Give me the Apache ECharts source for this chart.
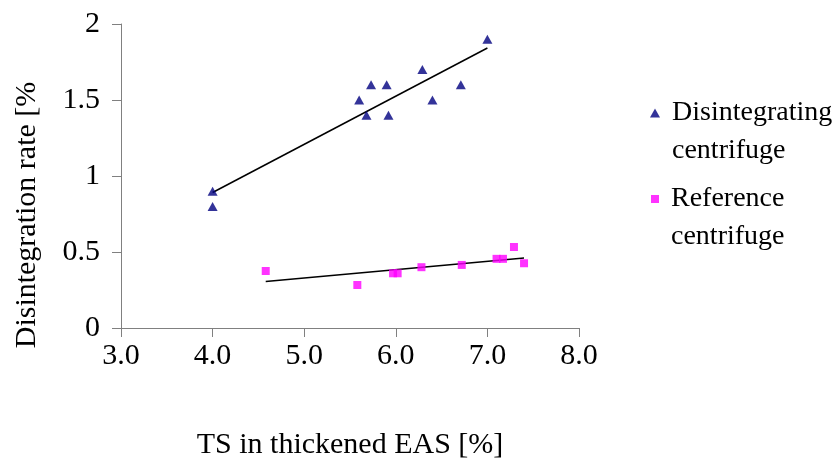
<!DOCTYPE html>
<html>
<head>
<meta charset="utf-8">
<script src="https://cdn.jsdelivr.net/npm/echarts@6/dist/echarts.min.js"></script>
<style>
  html, body { margin: 0; padding: 0; background: #fff; }
  #root { width: 838px; height: 458px; }
</style>
</head>
<body>
<div id="root"></div>
<script>
// 数据：值
var discX = [4.0, 4.0, 5.6, 5.68, 5.73, 5.9, 5.92, 6.29, 6.4, 6.71, 7.0];
var discY = [0.9, 0.8, 1.5, 1.4, 1.6, 1.6, 1.4, 1.7, 1.5, 1.6, 1.9];
var refX = [4.58, 5.58, 5.97, 6.02, 6.28, 6.72, 7.1, 7.17, 7.29, 7.4];
var refY = [0.375, 0.283, 0.36, 0.36, 0.4, 0.415, 0.455, 0.455, 0.533, 0.426];
var xTicks = ['3.0', '4.0', '5.0', '6.0', '7.0', '8.0'];
var yTicks = ['0', '0.5', '1', '1.5', '2'];
var names = ['Disintegrating\ncentrifuge', 'Reference\ncentrifuge'];

var FONT = '"Liberation Serif", "Times New Roman", serif';

function pairs(xs, ys) {
    return xs.map(function (x, i) { return [x, ys[i]]; });
}

// 线性回归趋势线
function trend(xs, ys) {
    var n = xs.length, mx = 0, my = 0, sxy = 0, sxx = 0;
    xs.forEach(function (x, i) { mx += x; my += ys[i]; });
    mx /= n; my /= n;
    xs.forEach(function (x, i) { sxy += (x - mx) * (ys[i] - my); sxx += (x - mx) * (x - mx); });
    var k = sxy / sxx, b = my - k * mx;
    var x0 = Math.min.apply(null, xs), x1 = Math.max.apply(null, xs);
    return [[x0, k * x0 + b], [x1, k * x1 + b]];
}

var myChart = echarts.init(document.getElementById('root'));

// 图例：空的第一行让图标对齐到名字的第一行
var legendBase = {
    orient: 'vertical',
    left: 650,
    padding: 0,
    itemGap: 0,
    itemWidth: 10,
    itemHeight: 9,
    formatter: function (name) {
        return '{t| }\n' + name.split('\n').map(function (s) { return '{t|' + s + '}'; }).join('\n');
    },
    textStyle: {
        fontFamily: FONT, fontSize: 28, color: '#000',
        rich: {
            t: { fontFamily: FONT, fontSize: 28, color: '#000', lineHeight: 38, padding: [0, 0, 0, 7] }
        }
    }
};

myChart.setOption({
    animation: false,
    backgroundColor: '#fff',
    grid: { left: 121, right: 259, top: 24, bottom: 130, outerBoundsMode: 'none' },
    legend: [
        Object.assign({}, legendBase, { top: 61, data: [{ name: names[0], icon: 'triangle' }] }),
        Object.assign({}, legendBase, { top: 147, data: [{ name: names[1], icon: 'rect' }], itemWidth: 8, itemHeight: 8, left: 651 })
    ],
    xAxis: {
        type: 'value',
        min: 3, max: 8, interval: 1,
        splitLine: { show: false },
        axisLine: { lineStyle: { color: '#808080', width: 1 } },
        axisTick: { length: 9, lineStyle: { color: '#808080' } },
        axisLabel: {
            margin: 13, color: '#000', fontFamily: FONT, fontSize: 30,
            formatter: function (v) { return xTicks[Math.round(v - 3)]; }
        },
        name: 'TS in thickened EAS [%]',
        nameLocation: 'middle',
        nameGap: 102,
        nameTextStyle: { color: '#000', fontFamily: FONT, fontSize: 30 }
    },
    yAxis: {
        type: 'value',
        min: 0, max: 2, interval: 0.5,
        splitLine: { show: false },
        axisLine: { show: true, lineStyle: { color: '#808080', width: 1 } },
        axisTick: { show: true, length: 9, lineStyle: { color: '#808080' } },
        axisLabel: {
            margin: 21, color: '#000', fontFamily: FONT, fontSize: 30,
            formatter: function (v) { return yTicks[Math.round(v * 2)]; }
        },
        name: 'Disintegration rate [%',
        nameLocation: 'middle',
        nameRotate: 90,
        nameGap: 79,
        nameTextStyle: { color: '#000', fontFamily: FONT, fontSize: 30, padding: [0, 78, 0, 0] }
    },
    series: [
        {
            name: names[0],
            type: 'scatter',
            symbol: 'triangle',
            symbolSize: [10, 9],
            itemStyle: { color: '#000080' },
            data: pairs(discX, discY),
            z: 3
        },
        {
            name: names[1],
            type: 'scatter',
            symbol: 'rect',
            symbolSize: 8,
            itemStyle: { color: '#FF00FF' },
            data: pairs(refX, refY),
            z: 3
        },
        {
            type: 'line',
            data: trend(discX, discY),
            symbol: 'none',
            lineStyle: { color: '#000', width: 1.5 },
            z: 2
        },
        {
            type: 'line',
            data: trend(refX, refY),
            symbol: 'none',
            lineStyle: { color: '#000', width: 1.5 },
            z: 2
        }
    ]
});
</script>
</body>
</html>
